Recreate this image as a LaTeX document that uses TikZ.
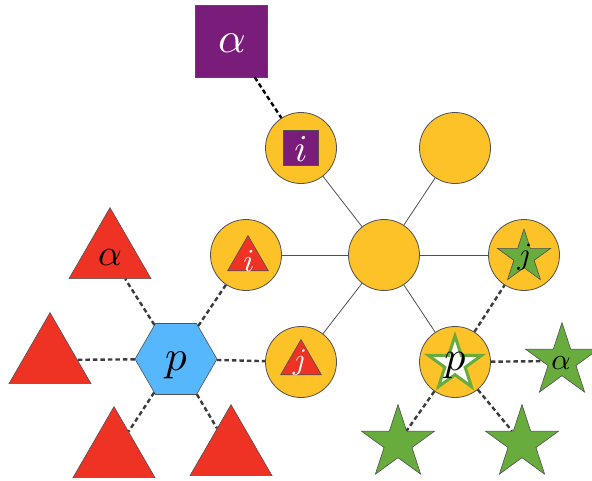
\documentclass[tikz,border=0pt]{standalone}
\usetikzlibrary{shapes.geometric}
\definecolor{cyel}{RGB}{252,194,40}
\definecolor{cpur}{RGB}{122,28,122}
\definecolor{cred}{RGB}{238,50,36}
\definecolor{cgrn}{RGB}{103,172,60}
\definecolor{cblu}{RGB}{86,183,252}
\definecolor{cbrd}{RGB}{80,80,80}
\definecolor{cdash}{RGB}{60,60,60}
\tikzset{
  yc/.style={circle,draw=cbrd,line width=0.8pt,fill=cyel,minimum size=71pt,inner sep=0pt},
  psq/.style={rectangle,draw=cbrd,line width=0.6pt,fill=cpur,inner sep=0pt},
  rtri/.style={regular polygon,regular polygon sides=3,draw=cbrd,line width=0.6pt,fill=cred,inner sep=0pt},
  hexa/.style={regular polygon,regular polygon sides=6,draw=cbrd,line width=0.6pt,fill=cblu,inner sep=0pt,minimum size=82pt},
  gstar/.style={star,star points=5,star point ratio=2.618,draw=cbrd,line width=0.6pt,fill=cgrn,inner sep=0pt},
  lbl/.style={inner sep=0pt,font=\normalsize,scale=#1},
  soledge/.style={draw=cbrd,line width=0.8pt},
  dashedge/.style={draw=cdash,line width=2.4pt,dash pattern=on 4.5pt off 3pt},
}
\begin{document}
\begin{tikzpicture}[x=1pt,y=-1pt]
\useasboundingbox (0,0) rectangle (592,480);
% circles
\node[yc] (ci) at (301,148) {};
\node[yc] (ctr) at (455,148) {};
\node[yc] (cc) at (384,255) {};
\node[yc] (cit) at (246,255) {};
\node[yc] (cjs) at (524,255) {};
\node[yc] (cjt) at (301,362) {};
\node[yc] (cps) at (455,362) {};
% purple squares
\node[psq,minimum size=72pt] (sqa) at (231,41) {};
\node[lbl=4.3,text=white] (sqal) at (232,43) {$\alpha$};
\node[psq,minimum size=35pt] (sqi) at (301,148) {};
\node[lbl=3.8,text=white] (sqil) at (301,149) {$i$};
% triangles inside circles
\node[rtri,minimum size=47pt] (ti) at (248,259) {};
\node[lbl=3.2,text=white] (til) at (249,261) {$i$};
\node[rtri,minimum size=47pt] (tj) at (301,363) {};
\node[lbl=3.0,text=white] (tjl) at (300,363) {$j$};
% stars inside circles
\node[gstar,minimum size=56pt] (sj) at (524,257) {};
\node[lbl=3.1] (sjl) at (525,257) {$j$};
\node[star,star points=5,star point ratio=2.618,draw=cgrn,line width=3pt,fill=white,inner sep=0pt,minimum size=56pt] (sp) at (455,364) {};
\node[lbl=4.2] (spl) at (455,366) {$p$};
% hexagon
\node[hexa] (hx) at (176,359) {};
\node[lbl=4.3] (hxl) at (176,365) {$p$};
% red triangles
\node[rtri,minimum size=94.7pt] (ta) at (110,255) {};
\node[lbl=3.7] (tal) at (110,258) {$\alpha$};
\node[rtri,minimum size=94.7pt] (tl) at (50,360) {};
\node[rtri,minimum size=94.7pt] (tbl) at (114,454) {};
\node[rtri,minimum size=94.7pt] (tbr) at (231,452) {};
% green stars
\node[gstar,minimum size=77pt] (sa) at (562,361) {};
\node[lbl=3.0] (sal) at (561,363) {$\alpha$};
\node[gstar,minimum size=77pt] (sbl) at (398,443) {};
\node[gstar,minimum size=77pt] (sbr) at (522,443) {};
% solid edges
\path[soledge] (cc) -- (ci);
\path[soledge] (cc) -- (ctr);
\path[soledge] (cc) -- (cit);
\path[soledge] (cc) -- (cjs);
\path[soledge] (cc) -- (cjt);
\path[soledge] (cc) -- (cps);
% dashed edges
\path[dashedge,draw=black] (sqa) -- (ci);
\path[dashedge] (hx) -- (ta);
\path[dashedge] (hx) -- (tl);
\path[dashedge] (hx) -- (tbl);
\path[dashedge] (hx) -- (tbr);
\path[dashedge] (hx) -- (cit);
\path[dashedge] (hx) -- (cjt);
\path[dashedge] (cps) -- (cjs);
\path[dashedge] (cps) -- (sa);
\path[dashedge] (cps) -- (sbl);
\path[dashedge] (cps) -- (sbr);
\end{tikzpicture}
\end{document}
